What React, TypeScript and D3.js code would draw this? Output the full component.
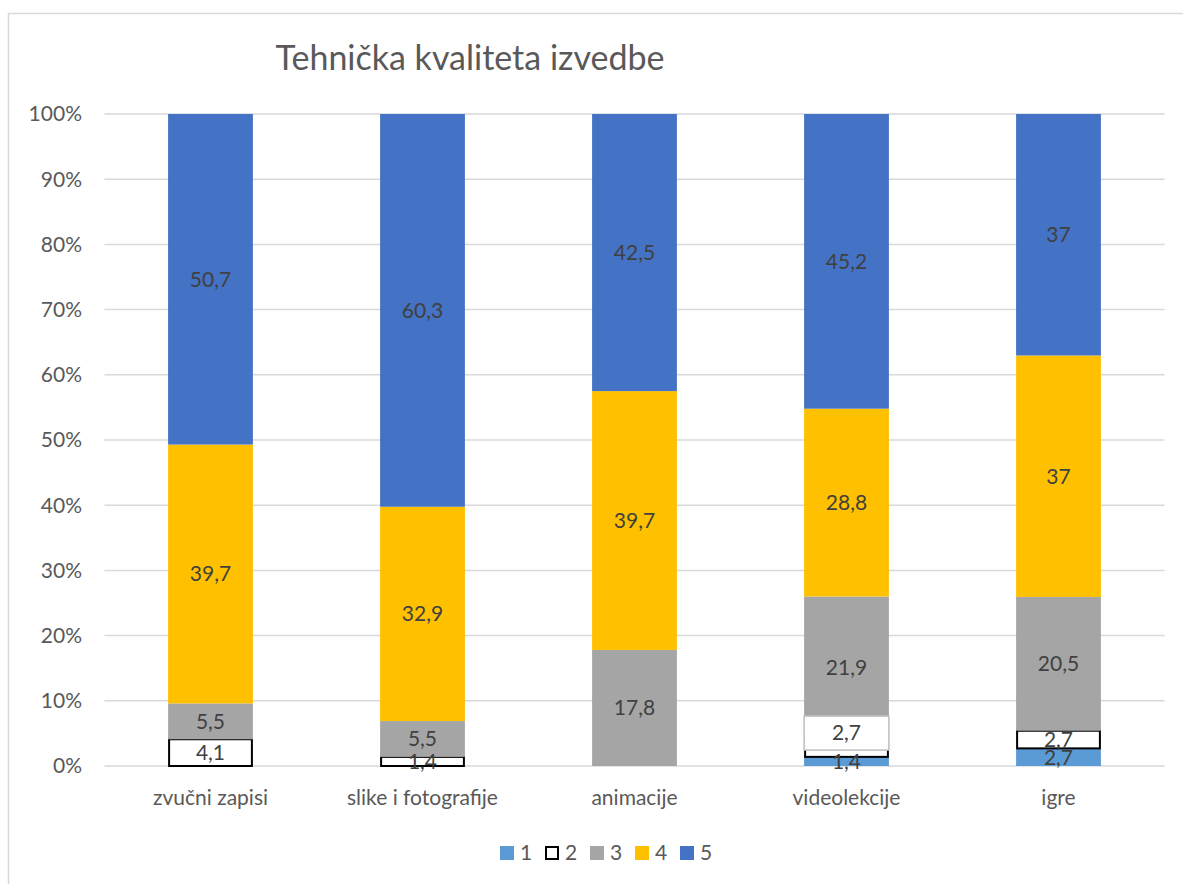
import React from "react";
import { scaleBand, scaleLinear, stack, stackOffsetExpand } from "d3";

const categories = ["zvučni zapisi", "slike i fotografije", "animacije", "videolekcije", "igre"];
const seriesNames = ["1", "2", "3", "4", "5"];
const s1 = [0, 0, 0, 1.4, 2.7];
const s2 = [4.1, 1.4, 0, 2.7, 2.7];
const s3 = [5.5, 5.5, 17.8, 21.9, 20.5];
const s4 = [39.7, 32.9, 39.7, 28.8, 37];
const s5 = [50.7, 60.3, 42.5, 45.2, 37];
const yTicks = [0, 0.1, 0.2, 0.3, 0.4, 0.5, 0.6, 0.7, 0.8, 0.9, 1];

const colors = ["#5B9BD5", "#FFFFFF", "#A5A5A5", "#FFC000", "#4472C4"];
const font = "Lato, 'Open Sans', sans-serif";

export default function App() {
  const width = 1183;
  const height = 884;

  const rows = categories.map((c, i) => ({
    cat: c,
    "1": s1[i],
    "2": s2[i],
    "3": s3[i],
    "4": s4[i],
    "5": s5[i],
  }));

  const series = stack<any>().keys(seriesNames).offset(stackOffsetExpand)(rows);

  const x = scaleBand().domain(categories).range([104.5, 1164.5]).paddingInner(0.6).paddingOuter(0.3);
  const y = scaleLinear().domain([0, 1]).range([766, 114]);

  // excel pushed this one label up out of the way
  const shifted = (si: number, ci: number) => si === 1 && ci === 3;

  return (
    <svg width={width} height={height} style={{ position: "absolute", left: 0, top: 0 }} fontFamily={font}>
      <rect x={0} y={0} width={width} height={height} fill="#fff" />
      <rect x={8.5} y={13.5} width={1190} height={900} fill="none" stroke="#D9D9D9" strokeWidth={1.5} />

      <text x={470} y={70} textAnchor="middle" fontSize={34} fill="#595959">
        Tehnička kvaliteta izvedbe
      </text>

      {yTicks.map((t) => (
        <g key={t}>
          <line x1={104.5} x2={1164.5} y1={y(t)} y2={y(t)} stroke="#D9D9D9" strokeWidth={1.5} />
          <text x={82} y={y(t)} dy="0.35em" textAnchor="end" fontSize={21} fill="#595959">
            {Math.round(t * 100)}%
          </text>
        </g>
      ))}

      {series.map((s, si) => (
        <g key={s.key}>
          {s.map((d, ci) => {
            const v = [s1, s2, s3, s4, s5][si][ci];
            if (!v) return null;
            const x0 = x(categories[ci]) as number;
            const bw = x.bandwidth();
            const top = y(d[1]);
            const bot = y(d[0]);
            return (
              <rect
                key={ci}
                x={si === 1 ? x0 + 1 : x0}
                y={top}
                width={si === 1 ? bw - 2 : bw}
                height={bot - top}
                fill={colors[si]}
                stroke={si === 1 ? "#000" : "none"}
                strokeWidth={2}
              />
            );
          })}
        </g>
      ))}

      {series.map((s, si) => (
        <g key={"l" + s.key}>
          {s.map((d, ci) => {
            const v = [s1, s2, s3, s4, s5][si][ci];
            if (!v) return null;
            const x0 = x(categories[ci]) as number;
            const bw = x.bandwidth();
            let cy = (y(d[0]) + y(d[1])) / 2;
            const label = String(v).replace(".", ",");
            if (shifted(si, ci)) {
              cy = cy - 15;
              return (
                <g key={ci}>
                  <rect x={x0} y={cy - 17} width={bw} height={34} fill="#fff" stroke="#BFBFBF" strokeWidth={1.5} />
                  <text x={x0 + bw / 2} y={cy} dy="0.35em" textAnchor="middle" fontSize={21} fill="#404040">
                    {label}
                  </text>
                </g>
              );
            }
            return (
              <text key={ci} x={x0 + bw / 2} y={cy} dy="0.35em" textAnchor="middle" fontSize={21} fill="#404040">
                {label}
              </text>
            );
          })}
        </g>
      ))}

      {categories.map((c) => (
        <text key={c} x={(x(c) as number) + x.bandwidth() / 2} y={805} textAnchor="middle" fontSize={21} fill="#595959">
          {c}
        </text>
      ))}

      {seriesNames.map((n, i) => (
        <g key={n} transform={`translate(${500 + i * 45},846)`}>
          <rect
            x={i === 1 ? 1 : 0}
            y={i === 1 ? 1 : 0}
            width={i === 1 ? 12 : 14}
            height={i === 1 ? 12 : 14}
            fill={colors[i]}
            stroke={i === 1 ? "#000" : "none"}
            strokeWidth={2}
          />
          <text x={20} y={7} dy="0.35em" fontSize={21} fill="#595959">
            {n}
          </text>
        </g>
      ))}
    </svg>
  );
}
